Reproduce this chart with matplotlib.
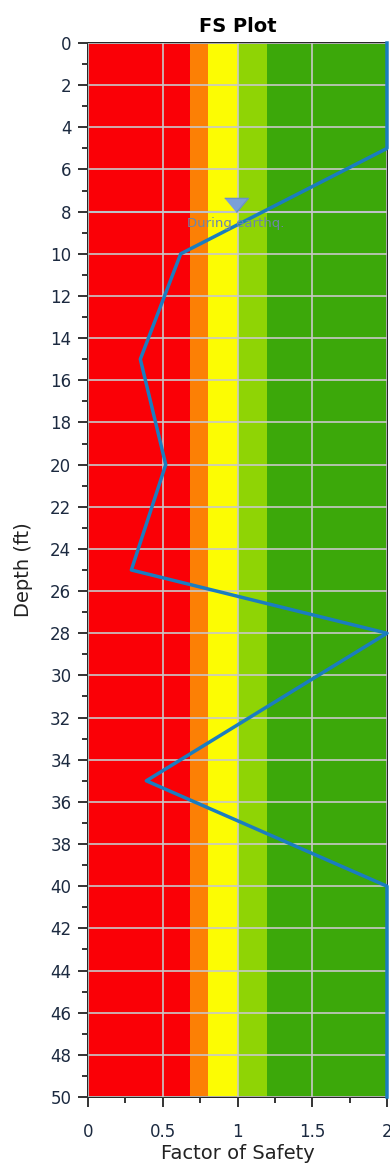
import matplotlib
matplotlib.use("Agg")
import matplotlib.pyplot as plt
from matplotlib.ticker import MultipleLocator

# Data
depth = [0, 5, 10, 15, 20, 25, 28, 35, 40, 50]
fs = [2, 2, 0.62, 0.35, 0.52, 0.29, 2, 0.39, 2, 2]
band_edges = [0, 0.68, 0.8, 1.0, 1.2, 2.0]
band_colors = ["#fa0006", "#fc8005", "#fcfc03", "#8fd405", "#3ca80a"]
water_depth = 8
water_x = 1.0
water_label = "During earthq."

fig = plt.figure(figsize=(3.9, 11.65), dpi=100)
ax = fig.add_axes([88/390, 1 - 1097/1165, 299/390, 1054/1165])

for i, c in enumerate(band_colors):
    ax.axvspan(band_edges[i], band_edges[i+1], color=c, zorder=0, lw=0)

ax.set_xlim(0, 2)
ax.set_ylim(50, 0)
ax.xaxis.set_major_locator(MultipleLocator(0.5))
ax.xaxis.set_minor_locator(MultipleLocator(0.25))
ax.yaxis.set_major_locator(MultipleLocator(2))
ax.yaxis.set_minor_locator(MultipleLocator(1))
ax.set_xticks([0, 0.5, 1, 1.5, 2])
ax.set_xticklabels(["0", "0.5", "1", "1.5", "2"])
ax.grid(True, which="major", color="#c8c8c8", lw=1.2, zorder=1)
ax.set_axisbelow(False)

ax.plot(fs, depth, color="#1a7dc0", lw=2.5, zorder=3, clip_on=False)

ax.axhline(water_depth, color="#8ea6c8", lw=1.5, zorder=2)
tri = [(-1, 0.6), (1, 0.6), (0, -0.6)]
ax.plot([water_x - 0.01], [water_depth - 0.32], marker=tri, ms=17, color="#7aa0d8",
        markeredgecolor="#6a90c8", markeredgewidth=1, zorder=4, linestyle="none")
ax.text(water_x - 0.01, water_depth + 0.55, water_label, color="#6d86a8",
        fontsize=9.5, ha="center", va="center", zorder=4)

ax.tick_params(axis="both", which="major", length=7, width=1.4, labelsize=12,
               colors="#333333")
ax.tick_params(axis="both", which="minor", length=4, width=1.4, colors="#333333")
ax.tick_params(axis="x", pad=12)
ax.tick_params(axis="y", pad=5)
for lab in ax.get_xticklabels() + ax.get_yticklabels():
    lab.set_color("#1c2a40")
    lab.set_fontweight("medium")
for s in ax.spines.values():
    s.set_linewidth(1.4)
    s.set_color("#222222")

ax.set_xlabel("Factor of Safety", fontsize=14, color="#222222", labelpad=2)
ax.set_ylabel("Depth (ft)", fontsize=14, color="#222222", labelpad=12)
ax.set_title("FS Plot", fontsize=14, fontweight="bold", pad=8)

fig.savefig("out.png", dpi=100)
